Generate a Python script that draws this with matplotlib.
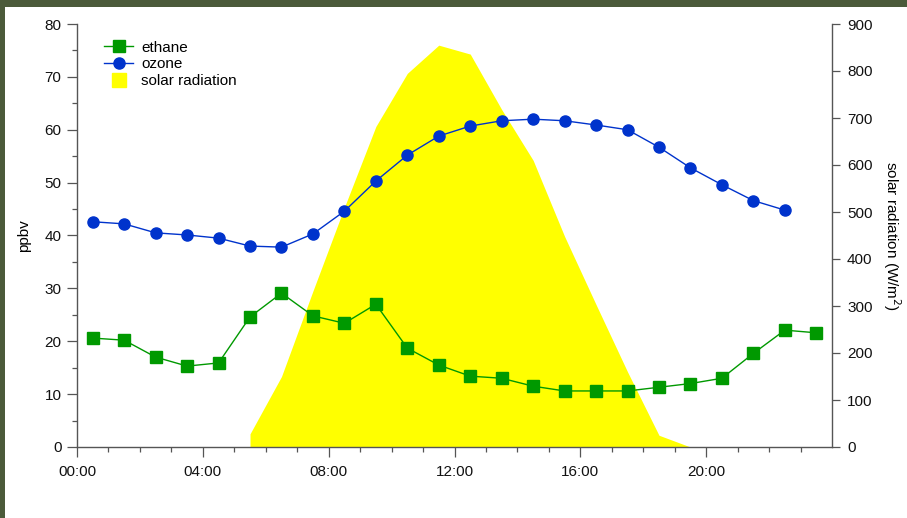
import matplotlib
matplotlib.use("Agg")
import matplotlib.pyplot as plt
from matplotlib.lines import Line2D
from matplotlib.patches import Rectangle

plt.rcParams['font.family'] = ['Liberation Sans', 'DejaVu Sans']

# ---- data ----
ethane_hours = [0.5, 1.5, 2.5, 3.5, 4.5, 5.5, 6.5, 7.5, 8.5, 9.5, 10.5, 11.5,
                12.5, 13.5, 14.5, 15.5, 16.5, 17.5, 18.5, 19.5, 20.5, 21.5, 22.5, 23.5]
ethane = [20.6, 20.2, 17.0, 15.3, 15.9, 24.6, 29.1, 24.8, 23.4, 27.0, 18.7, 15.5,
          13.4, 13.0, 11.5, 10.6, 10.6, 10.6, 11.3, 12.0, 13.0, 17.7, 22.1, 21.6]

ozone_hours = [0.5, 1.5, 2.5, 3.5, 4.5, 5.5, 6.5, 7.5, 8.5, 9.5, 10.5, 11.5,
               12.5, 13.5, 14.5, 15.5, 16.5, 17.5, 18.5, 19.5, 20.5, 21.5, 22.5]
ozone = [42.6, 42.2, 40.5, 40.1, 39.5, 38.0, 37.8, 40.3, 44.6, 50.3, 55.2, 58.8,
         60.7, 61.7, 62.0, 61.7, 60.9, 60.0, 56.7, 52.8, 49.6, 46.6, 44.8]

solar_hours = [5.5, 6.5, 7.5, 8.5, 9.5, 10.5, 11.5, 12.5, 13.5, 14.5, 15.5,
               16.5, 17.5, 18.5, 19.5]
solar = [28, 150, 332, 510, 682, 795, 855, 836, 718, 610, 448, 303, 160, 25, 0]

xtick_pos = [0, 4, 8, 12, 16, 20]
xtick_labels = ['00:00', '04:00', '08:00', '12:00', '16:00', '20:00']

# ---- figure ----
W, H = 907, 518
fig = plt.figure(figsize=(W / 100, H / 100), dpi=100, facecolor='white')
border = '#4b5a3a'
fig.patches.append(Rectangle((0, 1 - 7 / H), 1, 7 / H, transform=fig.transFigure,
                             facecolor=border, edgecolor='none', zorder=-10))
fig.patches.append(Rectangle((0, 0), 5 / W, 1, transform=fig.transFigure,
                             facecolor=border, edgecolor='none', zorder=-10))

left, right = 77 / W, 832 / W
bottom, top = 1 - 447 / H, 1 - 24 / H
ax = fig.add_axes([left, bottom, right - left, top - bottom])
ax2 = ax.twinx()

# solar radiation on right axis, drawn behind
ax.set_zorder(2)
ax.patch.set_visible(False)
ax2.set_zorder(1)
ax2.fill_between(solar_hours, 0, solar, color='#ffff00', linewidth=0)
ax2.set_ylim(0, 900)
ax2.set_yticks(range(0, 901, 100))

green = '#009900'
blue = '#0033cc'
LW = 1.0
MS = 8.0
ax.plot(ethane_hours, ethane, color=green, lw=LW, marker='s', ms=MS,
        mfc=green, mec=green, clip_on=False)
ax.plot(ozone_hours, ozone, color=blue, lw=LW, marker='o', ms=MS,
        mfc=blue, mec=blue, clip_on=False)

ax.set_xlim(0, 24)
ax.set_ylim(0, 80)
ax.set_yticks(range(0, 81, 10))
ax.set_yticks(range(5, 80, 10), minor=True)
ax.set_xticks(xtick_pos)
ax.set_xticklabels(xtick_labels)
ax.set_xticks([h for h in range(0, 24) if h % 4 != 0], minor=True)

spine_c = '#555555'
for a in (ax, ax2):
    a.spines['top'].set_visible(False)
    for s in ('left', 'right', 'bottom'):
        a.spines[s].set_color(spine_c)
        a.spines[s].set_linewidth(1.0)
ax.spines['right'].set_visible(False)
ax2.spines['left'].set_visible(False)
ax2.spines['bottom'].set_visible(False)

FS = 11
ax.tick_params(axis='both', which='major', length=7.2, width=0.9, color=spine_c,
               labelsize=FS, labelcolor='#111111', direction='out')
ax.tick_params(axis='both', which='minor', length=3.6, width=0.9, color=spine_c)
ax.tick_params(axis='x', which='major', pad=5.5)
ax.tick_params(axis='y', which='major', pad=4)
ax2.tick_params(axis='y', which='major', length=5.8, width=0.9, color=spine_c,
                labelsize=FS, labelcolor='#111111', direction='out', pad=5)

ax.set_ylabel('ppbv', fontsize=FS, labelpad=10)
ax2.set_ylabel('solar radiation (W/m$^2$)', fontsize=FS, rotation=270,
               labelpad=22)

handles = [
    Line2D([], [], color=green, lw=LW, marker='s', ms=MS, mfc=green, mec=green),
    Line2D([], [], color=blue, lw=LW, marker='o', ms=MS, mfc=blue, mec=blue),
    Line2D([], [], color='none', marker='s', ms=10, mfc='#ffff00', mec='#ffff00'),
]
ax.legend(handles, ['ethane', 'ozone', 'solar radiation'], loc='upper left',
          bbox_to_anchor=(0.028, 0.975), frameon=False, fontsize=FS,
          handlelength=1.9, handletextpad=0.5, labelspacing=0.18,
          borderaxespad=0)

fig.savefig('out.png', dpi=100, facecolor='white')
